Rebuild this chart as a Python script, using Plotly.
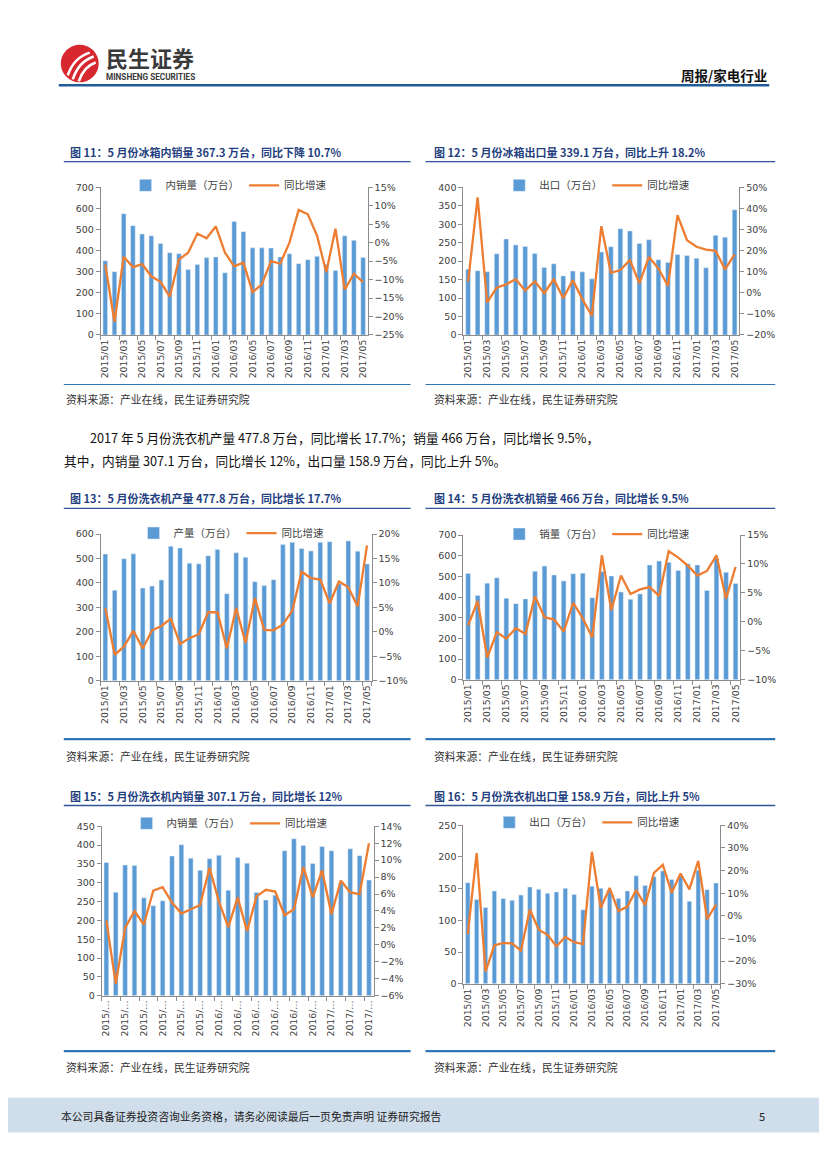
import plotly.graph_objects as go

W, H = 827, 1169
OFF = 8  # the page body adds an 8px margin around the figure

# ---------------- data ----------------
months = ["2015/01", "2015/02", "2015/03", "2015/04", "2015/05", "2015/06", "2015/07", "2015/08",
          "2015/09", "2015/10", "2015/11", "2015/12", "2016/01", "2016/02", "2016/03", "2016/04",
          "2016/05", "2016/06", "2016/07", "2016/08", "2016/09", "2016/10", "2016/11", "2016/12",
          "2017/01", "2017/02", "2017/03", "2017/04", "2017/05"]
tick_months = ["2015/01", "2015/03", "2015/05", "2015/07", "2015/09", "2015/11", "2016/01", "2016/03",
               "2016/05", "2016/07", "2016/09", "2016/11", "2017/01", "2017/03", "2017/05"]
tick_text_short = ["2015/…", "2015/…", "2015/…", "2015/…", "2015/…", "2015/…", "2016/…", "2016/…",
                   "2016/…", "2016/…", "2016/…", "2016/…", "2017/…", "2017/…", "2017/…"]

# 图11 冰箱内销量（万台）与同比增速（%）
fridge_dom = [352, 300, 575, 518, 479, 470, 434, 390, 385, 310, 334, 367, 370, 295, 538, 490,
              413, 413, 412, 370, 385, 338, 357, 373, 335, 306, 470, 449, 367.3]
fridge_dom_yoy = [-5.9, -21.5, -3.8, -6.6, -5.8, -9.1, -10.6, -14.6, -4.6, -2.7, 2.5, 1.2, 4.4, -2.7,
                  -6.4, -5.4, -13.4, -11.3, -5.0, -5.7, 0.0, 8.9, 7.7, 1.9, -8.0, 3.8, -12.7, -8.4, -10.7]

# 图12 冰箱出口量
fridge_exp = [178, 174, 171, 220, 260, 244, 240, 221, 183, 193, 160, 173, 171, 152, 225, 239,
              288, 282, 248, 258, 204, 196, 218, 215, 208, 182, 270, 265, 339.1]
fridge_exp_yoy = [5.3, 45.3, -4.6, 2.4, 4.0, 6.4, 1.0, 5.4, -0.2, 6.4, -2.6, 6.0, -3.0, -10.9, 31.6,
                  9.5, 10.8, 15.5, 4.5, 17.0, 11.5, 3.2, 36.8, 24.9, 21.8, 20.5, 19.9, 11.1, 18.2]

# 图13 洗衣机产量
washer_prod = [518, 370, 499, 519, 379, 387, 412, 550, 543, 481, 478, 511, 537, 356, 523, 505,
               405, 389, 413, 557, 566, 541, 531, 566, 569, 397, 572, 530, 477.8]
washer_prod_yoy = [4.9, -4.7, -3.0, 0.2, -3.4, 0.3, 1.2, 2.7, -2.5, -1.3, -0.5, 4.0, 4.0, -3.4, 4.9,
                   -2.3, 6.9, 0.4, 0.3, 1.5, 4.3, 12.3, 11.0, 10.7, 5.8, 10.3, 9.1, 5.2, 17.7]

# 图14 洗衣机销量
washer_sales = [514, 408, 467, 493, 394, 368, 391, 525, 550, 507, 478, 513, 515, 397, 523, 502,
                424, 389, 415, 555, 574, 568, 529, 561, 555, 432, 587, 520, 466]
washer_sales_yoy = [-0.6, 3.6, -6.2, -1.8, -2.9, -1.1, -2.1, 4.4, 0.8, 0.4, -1.7, 3.3, 0.6, -2.7, 11.5,
                    2.0, 8.0, 4.8, 5.6, 6.0, 4.5, 12.2, 11.1, 9.7, 8.0, 8.8, 11.5, 4.0, 9.5]

# 图15 洗衣机内销量
washer_dom = [354, 275, 347, 346, 260, 239, 252, 371, 401, 365, 333, 364, 373, 280, 367, 352,
              274, 254, 267, 385, 417, 399, 351, 396, 385, 300, 390, 372, 307.1]
washer_dom_yoy = [2.9, -4.6, 2.0, 4.0, 2.4, 6.4, 6.8, 5.0, 3.7, 4.2, 4.7, 9.1, 5.1, 2.1, 5.6,
                  1.6, 5.7, 6.5, 6.3, 3.5, 4.2, 9.2, 5.6, 8.8, 3.6, 7.6, 6.2, 6.0, 12.0]

# 图16 洗衣机出口量
washer_exp = [159.4, 132.8, 120.3, 146.4, 134.4, 131.8, 140, 152.6, 149, 142.7, 144.8, 150.5, 141,
              116.7, 154, 150.5, 148, 134.4, 146.4, 170.3, 155, 169, 178, 164.6, 170, 130, 179, 148.4, 158.9]
washer_exp_yoy = [-8.1, 27.7, -24.6, -13.1, -11.9, -12.2, -15.4, 2.8, -6.1, -8.4, -13.4, -9.3, -11.6,
                  -12.5, 28.3, 3.5, 12.3, 2.1, 4.1, 11.4, 4.7, 19.0, 22.5, 10.2, 18.7, 11.7, 24.3, -1.4, 5.0]

titles = ["图 11：5 月份冰箱内销量 367.3 万台，同比下降 10.7%",
          "图 12：5 月份冰箱出口量 339.1 万台，同比上升 18.2%",
          "图 13：5 月份洗衣机产量 477.8 万台，同比增长 17.7%",
          "图 14：5 月份洗衣机销量 466 万台，同比增长 9.5%",
          "图 15：5 月份洗衣机内销量 307.1 万台，同比增长 12%",
          "图 16：5 月份洗衣机出口量 158.9 万台，同比上升 5%"]
bar_names = ["内销量（万台）", "出口（万台）", "产量（万台）", "销量（万台）", "内销量（万台）", "出口（万台）"]
line_name = "同比增速"
source_text = "资料来源：产业在线，民生证券研究院"

# ---------------- layout helpers (page pixel -> paper) ----------------
def px(x):
    return (x - OFF) / W

def py(y):
    return 1 - (y - OFF) / H

BAR = "#5B9BD5"
LINE = "#ED7D31"
AX = "#8C8C8C"
TXT = "#404040"
FONT = "DejaVu Sans, Noto Sans CJK SC, sans-serif"
CJK = "Noto Sans CJK SC, sans-serif"

specs = [
    dict(bars=fridge_dom, yoy=fridge_dom_yoy, box=(99, 367, 183, 332), lr=(0, 700), ld=100, rr=(-25, 15), rd=5, leg=(124, 181), tt=tick_months),
    dict(bars=fridge_exp, yoy=fridge_exp_yoy, box=(463, 740, 183, 332), lr=(0, 400), ld=50, rr=(-20, 50), rd=10, leg=(499, 181), tt=tick_months),
    dict(bars=washer_prod, yoy=washer_prod_yoy, box=(99, 371, 533, 681), lr=(0, 600), ld=100, rr=(-10, 20), rd=5, leg=(132, 532), tt=tick_months),
    dict(bars=washer_sales, yoy=washer_sales_yoy, box=(463, 741, 534, 680), lr=(0, 700), ld=100, rr=(-10, 15), rd=5, leg=(499, 533), tt=tick_months),
    dict(bars=washer_dom, yoy=washer_dom_yoy, box=(100, 373, 828, 999), lr=(0, 450), ld=50, rr=(-6, 14), rd=2, leg=(125, 825), tt=tick_text_short),
    dict(bars=washer_exp, yoy=washer_exp_yoy, box=(463, 721, 827, 987), lr=(0, 250), ld=50, rr=(-30, 40), rd=10, leg=(489, 824), tt=tick_months),
]

fig = go.Figure()
layout = dict(width=W, height=H, margin=dict(l=0, r=0, t=0, b=0),
              paper_bgcolor="white", plot_bgcolor="rgba(0,0,0,0)",
              bargap=0.5, font=dict(family=FONT, size=9.5, color=TXT))

for i, s in enumerate(specs):
    k = i + 1
    xa = "x" if k == 1 else f"x{k}"
    yl = "y" if k == 1 else f"y{2 * k - 1}"
    yr = f"y{2 * k}"
    lg = "legend" if k == 1 else f"legend{k}"
    fig.add_trace(go.Bar(x=months, y=s["bars"], name=bar_names[i], marker_color=BAR,
                         xaxis=xa, yaxis=yl, legend=lg))
    fig.add_trace(go.Scatter(x=months, y=s["yoy"], name=line_name, mode="lines",
                             line=dict(color=LINE, width=2.3), xaxis=xa, yaxis=yr, legend=lg))
    x0, x1, y0, y1 = s["box"]
    xkey = "xaxis" if k == 1 else f"xaxis{k}"
    ylkey = "yaxis" if k == 1 else f"yaxis{2 * k - 1}"
    yrkey = f"yaxis{2 * k}"
    layout[xkey] = dict(domain=[px(x0), px(x1)], anchor=yl, type="category",
                        categoryorder="array", categoryarray=months,
                        tickmode="array", tickvals=tick_months, ticktext=s["tt"],
                        tickangle=-90, tickson="boundaries", ticks="outside", ticklen=4,
                        tickcolor=AX, showline=True, linecolor=AX, linewidth=1,
                        showgrid=False, tickfont=dict(size=9.3, color=TXT, family=FONT))
    layout[ylkey] = dict(domain=[py(y1), py(y0)], anchor=xa, range=list(s["lr"]), dtick=s["ld"],
                         tick0=0, showline=True, linecolor=AX, ticks="outside", ticklen=4,
                         tickcolor=AX, showgrid=False, zeroline=False,
                         tickfont=dict(size=9.5, color=TXT, family=FONT))
    layout[yrkey] = dict(overlaying=yl, side="right", anchor=xa, range=list(s["rr"]), dtick=s["rd"],
                         tick0=0, ticksuffix="%", showline=True, linecolor=AX, ticks="outside",
                         ticklen=4, tickcolor=AX, showgrid=False, zeroline=False,
                         tickfont=dict(size=9.5, color=TXT, family=FONT))
    lx, lyy = s["leg"]
    layout[lg] = dict(orientation="h", x=px(lx), y=py(lyy), xanchor="left", yanchor="middle",
                      bgcolor="rgba(0,0,0,0)", itemwidth=30, font=dict(size=10.5, color=TXT, family=FONT),
                      traceorder="normal", itemclick=False)

fig.update_layout(**layout)

# ---------------- page decorations ----------------
shapes = []
annotations = []

# header
shapes.append(dict(type="line", xref="paper", yref="paper", x0=px(57), x1=px(770), y0=py(80), y1=py(80),
                   line=dict(color="#1F5C99", width=2.5)))
shapes.append(dict(type="circle", xref="paper", yref="paper", x0=px(59), x1=px(97), y0=py(77), y1=py(39),
                   fillcolor="#D7282F", line=dict(width=0)))
for (ax, ay, cx, cy, bx, by) in [(66, 70, 72, 52, 88, 47), (71, 74, 77, 56, 92, 51), (77, 76, 82, 61, 94, 57)]:
    shapes.append(dict(type="path", xref="paper", yref="paper",
                       path=f"M {px(ax)},{py(ay)} Q {px(cx)},{py(cy)} {px(bx)},{py(by)}",
                       line=dict(color="white", width=2.6)))
annotations.append(dict(text="<b>民生证券</b>", x=px(102), y=py(51), xref="paper", yref="paper",
                        xanchor="left", yanchor="middle", showarrow=False,
                        font=dict(family=CJK, size=22, color="#3A3A3A")))
annotations.append(dict(text="<b>MINSHENG SECURITIES</b>", x=px(102), y=py(72), xref="paper", yref="paper",
                        xanchor="left", yanchor="middle", showarrow=False,
                        font=dict(family="Roboto, sans-serif", size=8.2, color="#3A3A3A")))
annotations.append(dict(text="<b>周报/家电行业</b>", x=px(770), y=py(70), xref="paper", yref="paper",
                        xanchor="right", yanchor="middle", showarrow=False,
                        font=dict(family=CJK, size=13.5, color="#111111")))

# chart titles, rules, sources
title_pos = [(66, 147), (432, 147), (66, 497), (432, 497), (66, 797), (432, 797)]
rule_x = [(62, 410), (425, 776), (62, 410), (425, 776), (62, 410), (425, 776)]
title_rule_y = [157, 157, 507, 507, 807, 807]
bottom_rule_y = [382, 382, 740, 740, 1055, 1055]
source_pos = [(62, 397), (432, 397), (62, 757), (432, 757), (62, 1071), (432, 1071)]
for i in range(6):
    tx, ty = title_pos[i]
    annotations.append(dict(text=f"<b>{titles[i]}</b>", x=px(tx), y=py(ty), xref="paper", yref="paper",
                            xanchor="left", yanchor="middle", showarrow=False,
                            font=dict(family=CJK, size=11, color="#1F3F7F")))
    rx0, rx1 = rule_x[i]
    shapes.append(dict(type="line", xref="paper", yref="paper", x0=px(rx0), x1=px(rx1),
                       y0=py(title_rule_y[i]), y1=py(title_rule_y[i]),
                       line=dict(color="#2F5597", width=1.3)))
    shapes.append(dict(type="line", xref="paper", yref="paper", x0=px(rx0), x1=px(rx1),
                       y0=py(bottom_rule_y[i]), y1=py(bottom_rule_y[i]),
                       line=dict(color="#2E75B6", width=1.2 if i < 2 else 2.2)))
    sx, sy = source_pos[i]
    annotations.append(dict(text=source_text, x=px(sx), y=py(sy), xref="paper", yref="paper",
                            xanchor="left", yanchor="middle", showarrow=False,
                            font=dict(family=CJK, size=10.8, color="#333333")))

# paragraph
annotations.append(dict(text="2017 年 5 月份洗衣机产量 477.8 万台，同比增长 17.7%；销量 466 万台，同比增长 9.5%，",
                        x=px(86), y=py(436), xref="paper", yref="paper", xanchor="left", yanchor="middle",
                        showarrow=False, font=dict(family=CJK, size=12.7, color="#111111")))
annotations.append(dict(text="其中，内销量 307.1 万台，同比增长 12%，出口量 158.9 万台，同比上升 5%。",
                        x=px(60), y=py(459), xref="paper", yref="paper", xanchor="left", yanchor="middle",
                        showarrow=False, font=dict(family=CJK, size=12.7, color="#111111")))

# footer
shapes.append(dict(type="rect", xref="paper", yref="paper", x0=px(0), x1=px(W + OFF), y0=py(1137), y1=py(1102),
                   fillcolor="#D0DEEC", line=dict(width=0), layer="below"))
annotations.append(dict(text="本公司具备证券投资咨询业务资格，请务必阅读最后一页免责声明 证券研究报告",
                        x=px(57), y=py(1120), xref="paper", yref="paper", xanchor="left", yanchor="middle",
                        showarrow=False, font=dict(family=CJK, size=10.8, color="#222222")))
annotations.append(dict(text="5", x=px(768), y=py(1120), xref="paper", yref="paper", xanchor="right",
                        yanchor="middle", showarrow=False, font=dict(family=CJK, size=11, color="#222222")))

fig.update_layout(shapes=shapes, annotations=annotations)
fig.write_html("out.html")
